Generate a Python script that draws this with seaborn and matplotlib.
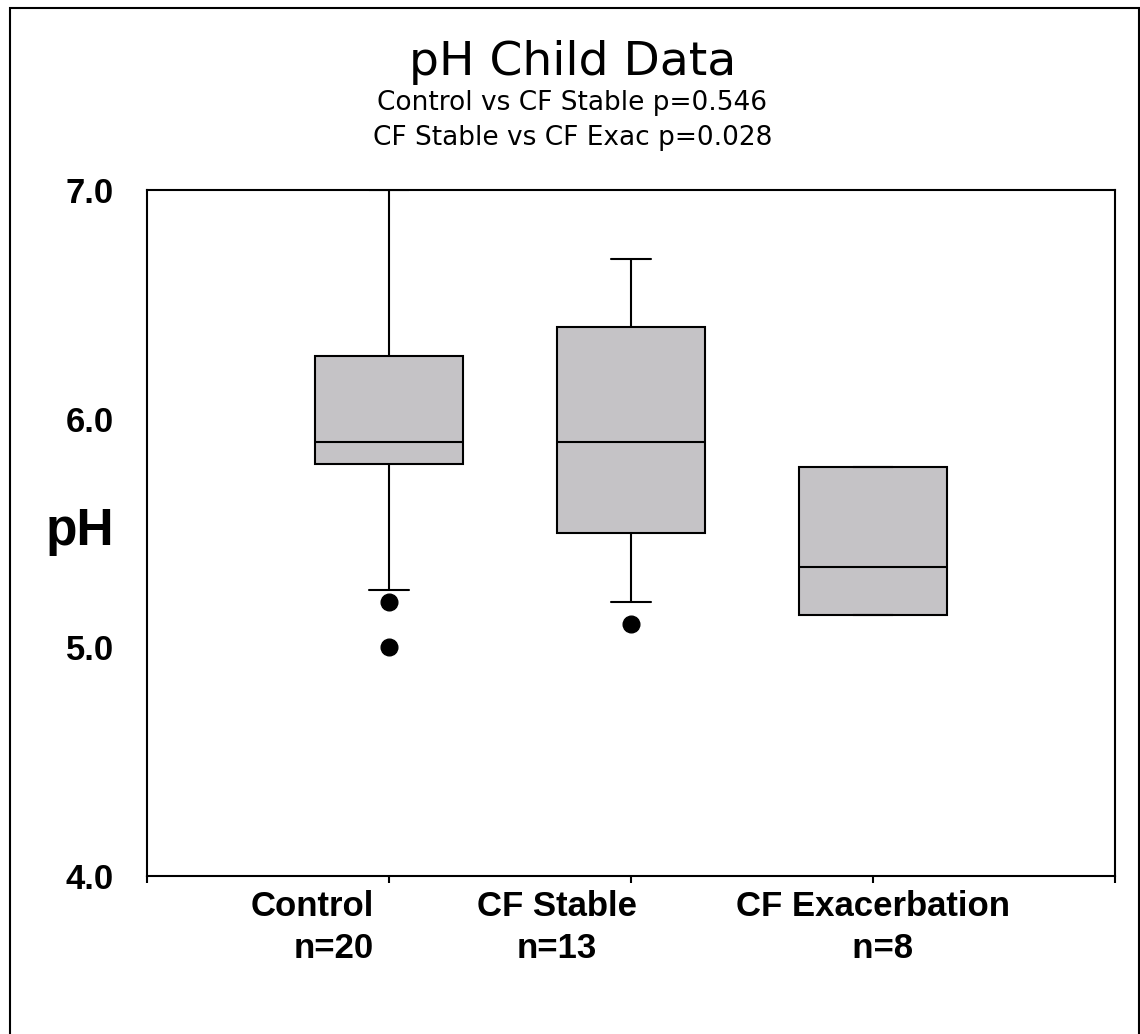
import pandas as pd
import matplotlib
matplotlib.use('Agg')
import matplotlib.pyplot as plt
import matplotlib.transforms as mtrans
from matplotlib.patches import Rectangle
import seaborn as sns

# groups and pH readings
groups = ['Control', 'CF Stable', 'CF Exacerbation']
n_labels = ['n=20', 'n=13', 'n=8']
control_ph = [5.0, 5.2, 5.25, 5.5, 5.8, 5.8, 5.8, 5.85, 5.9, 5.9,
              5.9, 6.0, 6.1, 6.2, 6.2, 6.5, 6.8, 7.0, 7.0, 7.0]
stable_ph = [5.1, 5.2, 5.2, 5.5, 5.6, 5.8, 5.9, 6.0, 6.2, 6.4, 6.7, 6.7, 6.7]
exac_ph = [5.14, 5.14, 5.14, 5.3, 5.4, 5.79, 5.79, 5.79]
yticks = [4.0, 5.0, 6.0, 7.0]

title = 'pH Child Data'
subtitle1 = 'Control vs CF Stable p=0.546'
subtitle2 = 'CF Stable vs CF Exac p=0.028'

df = pd.DataFrame({
    'group': [groups[0]] * len(control_ph) + [groups[1]] * len(stable_ph) + [groups[2]] * len(exac_ph),
    'pH': control_ph + stable_ph + exac_ph,
})

sns.set_theme(style='white')
plt.rcParams['font.family'] = ['Liberation Sans', 'DejaVu Sans']
plt.rcParams['text.color'] = 'black'
plt.rcParams['axes.labelcolor'] = 'black'
plt.rcParams['xtick.color'] = 'black'
plt.rcParams['ytick.color'] = 'black'

fig = plt.figure(figsize=(11.4, 10.34), dpi=100)
ax = fig.add_axes([147 / 1140, 1 - 876 / 1034, 968 / 1140, 686 / 1034])

sns.boxplot(data=df, x='group', y='pH', order=groups, ax=ax,
            color='#c5c3c6', saturation=1, width=0.61, whis=(10, 90),
            linecolor='black', linewidth=1.5, fliersize=12,
            flierprops=dict(marker='o', markerfacecolor='black',
                            markeredgecolor='black', markersize=12),
            capwidths=0.165)

ax.set_xlim(-1, 3)
ax.set_ylim(4.0, 7.0)
ax.set_yticks(yticks)
ax.set_yticklabels([f'{v:.1f}' for v in yticks], fontsize=25, fontweight='bold')
ax.tick_params(axis='y', length=0, pad=24)

ax.set_xticks([-1, 0, 1, 2, 3])
ax.set_xticklabels(['', f'{groups[0]}\n{n_labels[0]}', f'{groups[1]}\n{n_labels[1]}',
                    f'{groups[2]}\n  {n_labels[2]}', ''],
                   fontsize=25, fontweight='bold', linespacing=1.35)
ax.tick_params(axis='x', direction='out', length=5, width=1.5, color='black', pad=5, bottom=True)
ticklabs = ax.get_xticklabels()
ticklabs[1].set_multialignment('right')
ticklabs[1].set_transform(ticklabs[1].get_transform() + mtrans.ScaledTranslation(-0.77, 0, fig.dpi_scale_trans))
ticklabs[2].set_transform(ticklabs[2].get_transform() + mtrans.ScaledTranslation(-0.74, 0, fig.dpi_scale_trans))

ax.set_xlabel('')
ax.set_ylabel('pH', fontsize=37, fontweight='bold', rotation=0, ha='center', va='baseline')
ax.yaxis.set_label_coords(-0.069, 0.4825)

for sp in ax.spines.values():
    sp.set_visible(True)
    sp.set_color('black')
    sp.set_linewidth(1.5)

fig.text(0.502, 1 - 75 / 1034, title, ha='center', va='baseline', fontsize=34, family='DejaVu Sans')
fig.text(0.502, 1 - 110 / 1034, subtitle1, ha='center', va='baseline', fontsize=19,
         family='DejaVu Sans', fontweight='medium')
fig.text(0.502, 1 - 145 / 1034, subtitle2, ha='center', va='baseline', fontsize=19,
         family='DejaVu Sans', fontweight='medium')

fig.patches.append(Rectangle((10 / 1140, -0.01), 1129 / 1140, 1 - 8 / 1034 + 0.01,
                             transform=fig.transFigure, fill=False,
                             edgecolor='black', linewidth=1.5))

fig.savefig('out.png', dpi=100)
